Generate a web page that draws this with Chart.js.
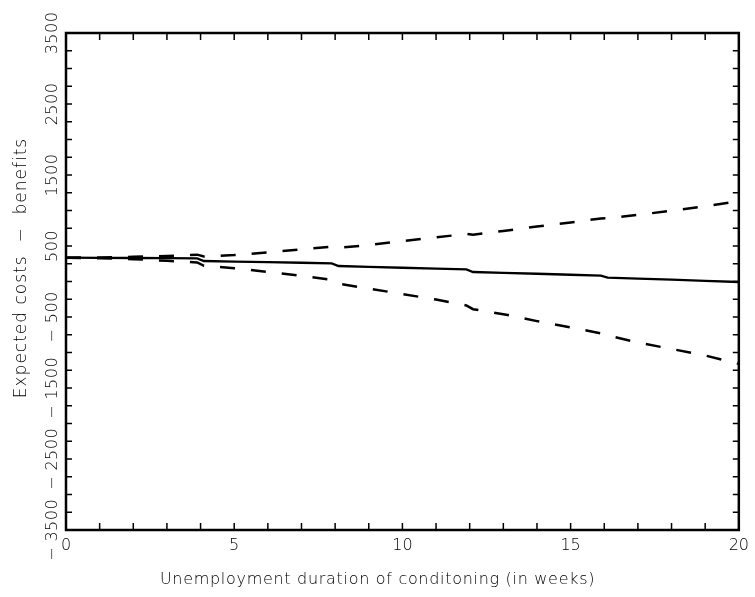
<!DOCTYPE html>
<html>
<head>
<meta charset="utf-8">
<script src="https://cdn.jsdelivr.net/npm/chart.js@4.4.0/dist/chart.umd.min.js"></script>
<style>
  html, body { margin: 0; padding: 0; background: #fff; }
  #wrap { width: 755px; height: 597px; }
</style>
</head>
<body>
<div id="wrap"><canvas id="chart"></canvas></div>
<script>
// weeks of conditioning (x) and expected costs - benefits (y)
const weeks = [0, 1, 2, 3, 3.9, 4.1, 5, 6, 7, 7.9, 8.1, 9, 10, 11, 11.9, 12.1, 13, 14, 15, 15.9, 16.1, 17, 18, 19, 20];
const expected = [335, 333, 331, 329, 326, 289, 281, 272, 264, 256, 218, 207, 194, 182, 170, 134, 122, 109, 95, 82, 54, 40, 25, 9, -7];
const upperBand = [335, 339, 347, 360, 378, 352, 372, 410, 453, 490, 474, 514, 570, 621, 670, 660, 712, 775, 832, 888, 890, 939, 996, 1058, 1130];
const lowerBand = [335, 328, 315, 292, 268, 220, 188, 135, 80, 25, -30, -100, -176, -255, -337, -390, -460, -558, -647, -730, -760, -860, -950, -1042, -1160];
const xTickLabels = [0, 5, 10, 15, 20];
const yTickLabels = [3500, 2500, 1500, 500, -500, -1500, -2500, -3500];
const xTitle = 'Unemployment duration of conditoning (in weeks)';
const yTitle = 'Expected costs  \u2212  benefits';

const FONT = "'DejaVu Sans', sans-serif";
const INK = '#000';

function pts(vals) {
  return weeks.map((w, i) => ({ x: w, y: vals[i] }));
}

// frame, inward tick marks, rotated y labels and the two axis titles
const frameTicks = {
  id: 'frameTicks',
  afterDraw(chart) {
    const { ctx, chartArea: a, scales: { x, y } } = chart;
    ctx.save();
    ctx.strokeStyle = '#000';
    ctx.lineWidth = 1.5;
    for (let w = 1; w < 20; w++) {
      const px = x.getPixelForValue(w);
      ctx.beginPath();
      ctx.moveTo(px, a.bottom); ctx.lineTo(px, a.bottom - 7);
      ctx.moveTo(px, a.top); ctx.lineTo(px, a.top + 7);
      ctx.stroke();
    }
    for (let v = -3250; v < 3500; v += 250) {
      const py = y.getPixelForValue(v);
      ctx.beginPath();
      ctx.moveTo(a.left, py); ctx.lineTo(a.left + 6, py);
      ctx.moveTo(a.right, py); ctx.lineTo(a.right - 6, py);
      ctx.stroke();
    }
    ctx.lineWidth = 2.5;
    ctx.strokeRect(a.left, a.top, a.right - a.left, a.bottom - a.top);

    ctx.fillStyle = INK;
    ctx.font = '300 16px ' + FONT;
    ctx.textAlign = 'center';
    ctx.textBaseline = 'middle';
    ctx.letterSpacing = '0.5px';
    yTickLabels.forEach(v => {
      const py = y.getPixelForValue(v);
      ctx.save();
      ctx.translate(a.left - 13, py);
      ctx.rotate(-Math.PI / 2);
      ctx.fillText(v < 0 ? '\u2212 ' + Math.abs(v) : String(v), 0, 0);
      ctx.restore();
    });

    ctx.letterSpacing = '0.7px';
    ctx.fillText(xTitle, chart.width / 2, 580);

    ctx.font = '300 17px ' + FONT;
    ctx.letterSpacing = '1px';
    ctx.save();
    ctx.translate(22, 268);
    ctx.rotate(-Math.PI / 2);
    ctx.fillText(yTitle, 0, 0);
    ctx.restore();
    ctx.restore();
  }
};

new Chart(document.getElementById('chart'), {
  type: 'line',
  data: {
    datasets: [
      { data: pts(expected), borderColor: '#000', borderWidth: 2.3, pointRadius: 0, tension: 0 },
      { data: pts(upperBand), borderColor: '#000', borderWidth: 2.5, borderDash: [15, 16], pointRadius: 0, tension: 0 },
      { data: pts(lowerBand), borderColor: '#000', borderWidth: 2.5, borderDash: [15, 16], pointRadius: 0, tension: 0 }
    ]
  },
  options: {
    responsive: true,
    maintainAspectRatio: false,
    animation: false,
    devicePixelRatio: 1,
    layout: { padding: { top: 33, right: 14, left: 0, bottom: 0 } },
    plugins: { legend: { display: false }, tooltip: { enabled: false } },
    scales: {
      x: {
        type: 'linear',
        min: 0,
        max: 20,
        grid: { display: false, drawTicks: false },
        border: { display: false },
        afterBuildTicks: s => { s.ticks = xTickLabels.map(v => ({ value: v })); },
        afterFit: s => { s.height = 67; },
        ticks: { color: INK, font: { family: FONT, size: 16, weight: 300 }, padding: 6, maxRotation: 0 }
      },
      y: {
        min: -3500,
        max: 3500,
        grid: { display: false, drawTicks: false },
        border: { display: false },
        ticks: { display: false },
        afterFit: s => { s.width = 66; }
      }
    }
  },
  plugins: [frameTicks]
});
</script>
</body>
</html>
